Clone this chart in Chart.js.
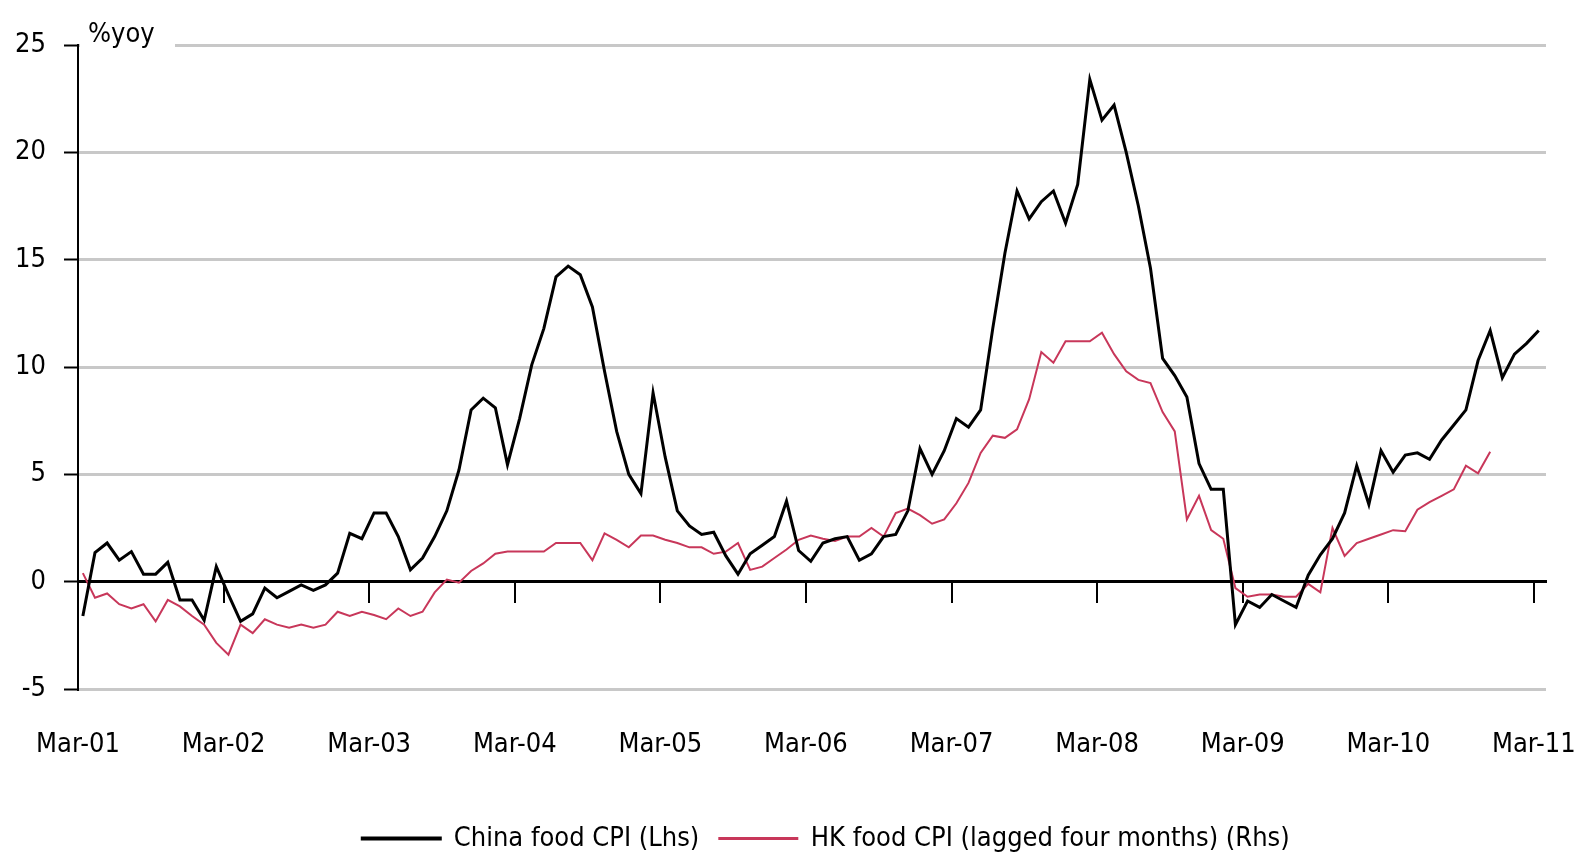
<!DOCTYPE html>
<html>
<head>
<meta charset="utf-8">
<script src="https://cdn.jsdelivr.net/npm/chart.js@4.4.1/dist/chart.umd.min.js"></script>
<style>
  html, body { margin:0; padding:0; background:#fff; }
  #wrap { width:1581px; height:862px; position:relative; }
</style>
</head>
<body>
<div id="wrap"><canvas id="lineChart"></canvas></div>
<script>
// monthly, first value = Mar-01
const chinaFood = [
  -1.6, 1.35, 1.8, 1.0, 1.4, 0.35, 0.35, 0.9, -0.85, -0.85, -1.8, 0.7,
  -0.6, -1.85, -1.5, -0.3, -0.75, -0.45, -0.15, -0.4, -0.15, 0.4, 2.25, 2.0,
  3.2, 3.2, 2.1, 0.55, 1.1, 2.1, 3.3, 5.2, 8.0, 8.55, 8.1, 5.45,
  7.6, 10.1, 11.8, 14.2, 14.7, 14.3, 12.8, 9.8, 7.0, 5.0, 4.1, 8.8,
  5.8, 3.3, 2.6, 2.2, 2.3, 1.2, 0.35, 1.3, 1.7, 2.1, 3.75, 1.45,
  0.95, 1.8, 2.0, 2.1, 1.0, 1.3, 2.1, 2.2, 3.3, 6.2, 5.0, 6.1,
  7.6, 7.2, 8.0, 11.8, 15.3, 18.2, 16.9, 17.7, 18.2, 16.7, 18.5, 23.4,
  21.5, 22.2, 20.0, 17.5, 14.6, 10.4, 9.6, 8.6, 5.5, 4.3, 4.3, -2.0,
  -0.9, -1.2, -0.6, -0.9, -1.2, 0.3, 1.25, 2.0, 3.2, 5.4, 3.6, 6.1,
  5.1, 5.9, 6.0, 5.7, 6.6, 7.3, 8.0, 10.3, 11.7, 9.5, 10.6, 11.1,
  11.7
];
const hkFood = [
  0.4, -0.75, -0.55, -1.05, -1.25, -1.05, -1.85, -0.85, -1.15, -1.6, -2.0, -2.85,
  -3.4, -2.0, -2.4, -1.75, -2.0, -2.15, -2.0, -2.15, -2.0, -1.4, -1.6, -1.4,
  -1.55, -1.75, -1.25, -1.6, -1.4, -0.5, 0.1, -0.05, 0.5, 0.85, 1.3, 1.4,
  1.4, 1.4, 1.4, 1.8, 1.8, 1.8, 1.0, 2.25, 1.95, 1.6, 2.15, 2.15,
  1.95, 1.8, 1.6, 1.6, 1.3, 1.4, 1.8, 0.55, 0.7, 1.1, 1.5, 1.95,
  2.15, 2.0, 1.9, 2.1, 2.1, 2.5, 2.1, 3.2, 3.4, 3.1, 2.7, 2.9,
  3.65, 4.6, 6.0, 6.8, 6.7, 7.1, 8.5, 10.7, 10.2, 11.2, 11.2, 11.2,
  11.6, 10.6, 9.8, 9.4, 9.25, 7.9, 7.0, 2.9, 4.0, 2.4, 2.0, -0.3,
  -0.7, -0.6, -0.6, -0.7, -0.7, -0.1, -0.5, 2.5, 1.2, 1.8, 2.0, 2.2,
  2.4, 2.35, 3.35, 3.7, 4.0, 4.3, 5.4, 5.05, 6.05
];
const xLabels = ['Mar-01','Mar-02','Mar-03','Mar-04','Mar-05','Mar-06','Mar-07','Mar-08','Mar-09','Mar-10','Mar-11'];
const tickMonths = xLabels.map((l, i) => i * 12);
const seriesNames = ['China food CPI (Lhs)', 'HK food CPI (lagged four months) (Rhs)'];
const unitLabel = '%yoy';
const pointShift = 0.4; // points sit a bit right of the month tick

const FONT = "'Liberation Sans Narrow', 'DejaVu Sans Condensed', 'Arial Narrow', sans-serif";
const FS = 27;
const LEGEND_SHIFT = 53; // legend is centred a bit right of the page centre

function toPoints(arr) {
  return arr.map((v, i) => ({ x: i + pointShift, y: v }));
}

function setMonthTicks(scale) {
  scale.ticks = tickMonths.map(v => ({ value: v }));
}

const unitPlugin = {
  id: 'unitLabel',
  afterLayout(chart) {
    chart.legend.left += LEGEND_SHIFT;
    chart.legend.right += LEGEND_SHIFT;
  },
  afterDraw(chart) {
    const { ctx, chartArea } = chart;
    ctx.save();
    ctx.fillStyle = '#fff';
    ctx.fillRect(chartArea.left + 2, chartArea.top - 24, 95, 34);
    ctx.fillStyle = '#000';
    ctx.font = FS + 'px ' + FONT;
    ctx.textBaseline = 'middle';
    ctx.fillText(unitLabel, chartArea.left + 10, chartArea.top - 10);
    ctx.restore();
  }
};

Chart.defaults.font.family = FONT;
Chart.defaults.font.size = FS;
Chart.defaults.color = '#000';

const ctx = document.getElementById('lineChart').getContext('2d');
const lineChart = new Chart(ctx, {
  type: 'line',
  data: {
    datasets: [
      { label: seriesNames[0], data: toPoints(chinaFood), borderColor: '#000', backgroundColor: '#000',
        borderWidth: 3, pointRadius: 0, tension: 0 },
      { label: seriesNames[1], data: toPoints(hkFood), borderColor: '#c8375a', backgroundColor: '#c8375a',
        borderWidth: 2, pointRadius: 0, tension: 0 }
    ]
  },
  options: {
    responsive: true,
    maintainAspectRatio: false,
    animation: false,
    layout: { padding: { left: 0, right: 35, top: 45, bottom: 0 } },
    plugins: {
      legend: {
        position: 'bottom',
        labels: { boxWidth: 78, boxHeight: 1, padding: 20, color: '#000', font: { size: FS } }
      },
      tooltip: { enabled: false }
    },
    scales: {
      x: {
        type: 'linear', min: 0, max: 121,
        afterBuildTicks: setMonthTicks,
        afterFit: s => { s.height = 116; },
        ticks: {
          autoSkip: false, maxRotation: 0, padding: 0, color: '#000',
          callback: v => xLabels[tickMonths.indexOf(v)]
        },
        grid: { display: false, drawTicks: true, tickLength: 40 },
        border: { display: false }
      },
      x0: {
        type: 'linear', axis: 'x', min: 0, max: 121,
        position: { y: 0 },
        afterBuildTicks: setMonthTicks,
        ticks: { display: false },
        grid: { drawOnChartArea: false, drawTicks: true, tickLength: 20, color: '#000', lineWidth: 2 },
        border: { color: '#000', width: 3 }
      },
      y: {
        min: -5, max: 25,
        afterFit: s => { s.width = 78; },
        ticks: { stepSize: 5, padding: 18, color: '#000' },
        grid: {
          color: c => (c.tick && c.tick.value === 0) ? '#000' : '#c8c8c8',
          lineWidth: 3, tickColor: '#000', tickLength: 14, tickWidth: 2
        },
        border: { color: '#000', width: 2 }
      }
    }
  },
  plugins: [unitPlugin]
});
</script>
</body>
</html>
